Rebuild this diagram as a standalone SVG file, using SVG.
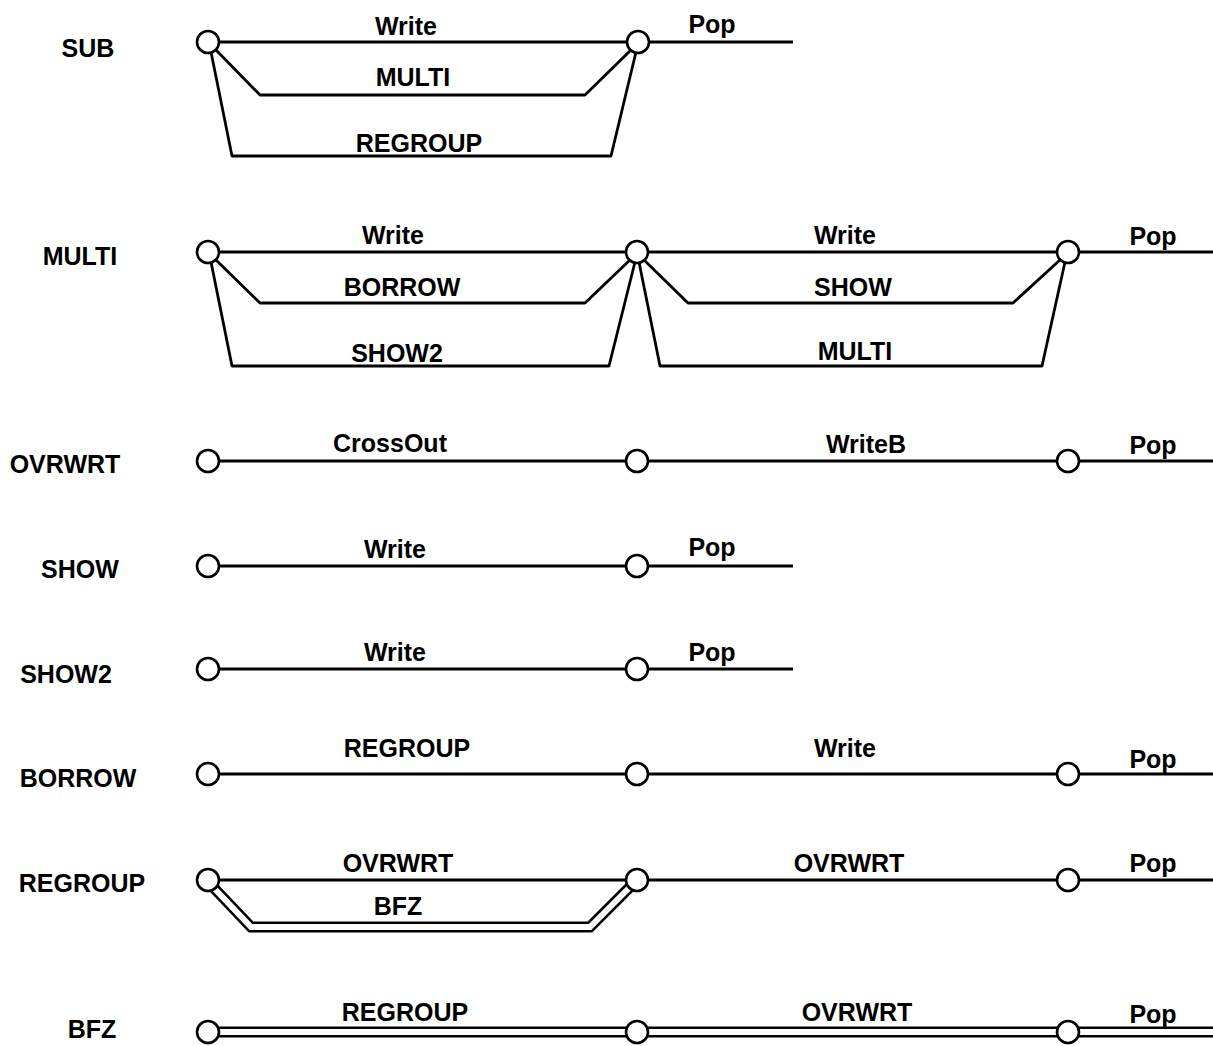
<svg xmlns="http://www.w3.org/2000/svg" width="1213" height="1046" viewBox="0 0 1213 1046">
<style>
.bg{fill:#fff}
.ln{fill:none;stroke:#000;stroke-width:2.8;stroke-linejoin:round}
.dbo{fill:none;stroke:#000;stroke-width:11;stroke-linejoin:miter}
.dbi{fill:none;stroke:#fff;stroke-width:6}
.nd{fill:#fff;stroke:#000;stroke-width:2.6}
text{font-family:"Liberation Sans",Arial,sans-serif;font-size:25px;font-weight:bold;fill:#000;text-anchor:middle}
</style>
<rect class="bg" x="0" y="0" width="1213" height="1046"/>
<g id="connectors">
<path class="ln" d="M208 42 H638 M638 42 H793"/>
<path class="ln" d="M216 50 L260 95 H585 L632 49"/>
<path class="ln" d="M211 52 L232 156 H611 L636 52"/>
<path class="ln" d="M208 252 H1068 M1068 252 H1213"/>
<path class="ln" d="M216 260 L260 303 H585 L631 259"/>
<path class="ln" d="M211 262 L232 366 H609 L635 262"/>
<path class="ln" d="M643 259 L688 303 H1013 L1061 259"/>
<path class="ln" d="M639 262 L660 366 H1042 L1065 262"/>
<path class="ln" d="M208 461 H1213"/>
<path class="ln" d="M208 566 H793"/>
<path class="ln" d="M208 669 H793"/>
<path class="ln" d="M208 774 H1213"/>
<path class="ln" d="M208 880 H1213"/>
<path class="dbo" d="M212 886 L251 927 H590 L631 886"/>
<path class="dbi" d="M212 886 L251 927 H590 L631 886"/>
<path class="dbo" d="M208 1032 H1213"/>
<path class="dbi" d="M208 1032 H1213"/>
</g>
<g id="n-sub-1"><circle class="nd" cx="208" cy="42" r="11"/></g>
<g id="n-sub-2"><circle class="nd" cx="638" cy="42" r="11"/></g>
<g id="n-multi-1"><circle class="nd" cx="208" cy="252" r="11"/></g>
<g id="n-multi-2"><circle class="nd" cx="637" cy="252" r="11"/></g>
<g id="n-multi-3"><circle class="nd" cx="1068" cy="252" r="11"/></g>
<g id="n-ovrwrt-1"><circle class="nd" cx="208" cy="461" r="11"/></g>
<g id="n-ovrwrt-2"><circle class="nd" cx="637" cy="461" r="11"/></g>
<g id="n-ovrwrt-3"><circle class="nd" cx="1068" cy="461" r="11"/></g>
<g id="n-show-1"><circle class="nd" cx="208" cy="566" r="11"/></g>
<g id="n-show-2"><circle class="nd" cx="637" cy="566" r="11"/></g>
<g id="n-show2-1"><circle class="nd" cx="208" cy="669" r="11"/></g>
<g id="n-show2-2"><circle class="nd" cx="637" cy="669" r="11"/></g>
<g id="n-borrow-1"><circle class="nd" cx="208" cy="774" r="11"/></g>
<g id="n-borrow-2"><circle class="nd" cx="637" cy="774" r="11"/></g>
<g id="n-borrow-3"><circle class="nd" cx="1068" cy="774" r="11"/></g>
<g id="n-regroup-1"><circle class="nd" cx="208" cy="880" r="11"/></g>
<g id="n-regroup-2"><circle class="nd" cx="637" cy="880" r="11"/></g>
<g id="n-regroup-3"><circle class="nd" cx="1068" cy="880" r="11"/></g>
<g id="n-bfz-1"><circle class="nd" cx="208" cy="1032" r="11"/></g>
<g id="n-bfz-2"><circle class="nd" cx="637" cy="1032" r="11"/></g>
<g id="n-bfz-3"><circle class="nd" cx="1068" cy="1032" r="11"/></g>
<g id="row-labels">
<text x="88" y="57">SUB</text>
<text x="80" y="265">MULTI</text>
<text x="65" y="473">OVRWRT</text>
<text x="80" y="578">SHOW</text>
<text x="66" y="683">SHOW2</text>
<text x="78" y="787">BORROW</text>
<text x="82" y="892">REGROUP</text>
<text x="92" y="1038">BFZ</text>
</g>
<g id="edge-labels">
<text x="406" y="35">Write</text>
<text x="413" y="86">MULTI</text>
<text x="419" y="152">REGROUP</text>
<text x="712" y="33">Pop</text>
<text x="393" y="244">Write</text>
<text x="402" y="296">BORROW</text>
<text x="397" y="362">SHOW2</text>
<text x="845" y="244">Write</text>
<text x="853" y="296">SHOW</text>
<text x="855" y="360">MULTI</text>
<text x="1153" y="245">Pop</text>
<text x="390" y="452">CrossOut</text>
<text x="866" y="453">WriteB</text>
<text x="1153" y="454">Pop</text>
<text x="395" y="558">Write</text>
<text x="712" y="556">Pop</text>
<text x="395" y="661">Write</text>
<text x="712" y="661">Pop</text>
<text x="407" y="757">REGROUP</text>
<text x="845" y="757">Write</text>
<text x="1153" y="768">Pop</text>
<text x="398" y="872">OVRWRT</text>
<text x="398" y="915">BFZ</text>
<text x="849" y="872">OVRWRT</text>
<text x="1153" y="872">Pop</text>
<text x="405" y="1021">REGROUP</text>
<text x="857" y="1021">OVRWRT</text>
<text x="1153" y="1023">Pop</text>
</g>
</svg>
